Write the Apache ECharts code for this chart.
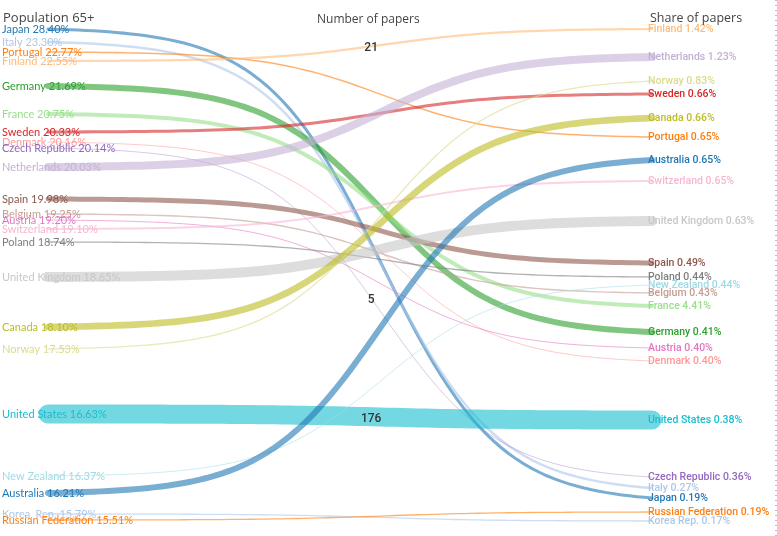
<!DOCTYPE html>
<html>
<head>
<meta charset="utf-8">
<script src="https://cdn.jsdelivr.net/npm/echarts@6/dist/echarts.min.js"></script>
<style>
html, body { margin: 0; padding: 0; background: #fff; }
#chart { width: 777px; height: 536px; }
</style>
</head>
<body>
<div id="chart"></div>
<script>
// countries, in the order they are drawn
var countries = ['Japan', 'Italy', 'Portugal', 'Finland', 'Germany', 'France', 'Sweden', 'Denmark',
    'Czech Republic', 'Netherlands', 'Spain', 'Belgium', 'Austria', 'Switzerland', 'Poland',
    'United Kingdom', 'Canada', 'Norway', 'United States', 'New Zealand', 'Australia', 'Korea, Rep.',
    'Russian Federation'];
var rightNames = ['Japan', 'Italy', 'Portugal', 'Finland', 'Germany', 'France', 'Sweden', 'Denmark',
    'Czech Republic', 'Netherlands', 'Spain', 'Belgium', 'Austria', 'Switzerland', 'Poland',
    'United Kingdom', 'Canada', 'Norway', 'United States', 'New Zealand', 'Australia', 'Korea Rep.',
    'Russian Federation'];
// population 65+ (%)
var pop65 = [28.40, 23.30, 22.77, 22.55, 21.69, 20.75, 20.33, 20.16, 20.14, 20.03, 19.98, 19.25, 19.20,
    19.10, 18.74, 18.65, 18.10, 17.53, 16.63, 16.37, 16.21, 15.79, 15.51];
// share of papers (%)
var paperShare = [0.19, 0.27, 0.65, 1.42, 0.41, 4.41, 0.66, 0.40, 0.36, 1.23, 0.49, 0.43, 0.40,
    0.65, 0.44, 0.63, 0.66, 0.83, 0.38, 0.44, 0.65, 0.17, 0.19];
// number of papers (line thickness)
var papers = [28, 23, 14, 21, 55, 37, 28, 8, 5, 74, 46, 13, 9, 18, 12, 92, 62, 12, 176, 8, 55, 12, 12];
// vertical slot of each country in the left and right columns
var leftSlot = [29, 42, 52, 61, 86, 114, 132, 142, 148, 167, 199, 214, 220, 229, 242, 277, 327, 349,
    414, 476, 493, 514, 520];
var rightSlot = [498, 488, 137, 29, 332, 306, 94, 361, 477, 57, 263, 293, 348, 181, 277, 221, 118, 81,
    420, 285, 160, 521, 512];
var labeledPapers = ['Finland', 'Czech Republic', 'United States'];

var palette = ['#1f77b4', '#aec7e8', '#ff7f0e', '#ffbb78', '#2ca02c', '#98df8a', '#d62728', '#ff9896',
    '#9467bd', '#c5b0d5', '#8c564b', '#c49c94', '#e377c2', '#f7b6d2', '#7f7f7f', '#c7c7c7',
    '#bcbd22', '#dbdb8d', '#17becf', '#9edae5'];

var K = 10.3, C = 0.553;
function sig(v) { return 1 / (1 + Math.exp(-v)); }
var s0 = sig(-K * C), s1 = sig(K * (1 - C));
function ease(t) { return (sig(K * (t - C)) - s0) / (s1 - s0); }

var rows = countries.map(function (c, i) {
    return [0, leftSlot[i], 1, rightSlot[i], papers[i], i];
});

var myChart = echarts.init(document.getElementById('chart'));
var option = {
    animation: false,
    title: [
        { text: 'Population 65+', left: -2, top: 7, textStyle: { fontFamily: 'Open Sans', fontSize: 13, fontWeight: 'normal', color: '#444' } },
        { text: 'Number of papers', left: 312, top: 9, textStyle: { fontFamily: 'Open Sans', fontSize: 12, fontWeight: 'normal', color: '#444' } },
        { text: 'Share of papers', left: 645, top: 7, textStyle: { fontFamily: 'Open Sans', fontSize: 12.5, fontWeight: 'normal', color: '#444' } }
    ],
    grid: { left: 0, right: 0, top: 0, bottom: 0 },
    xAxis: { type: 'value', min: -0.0795, max: 1.207, show: false },
    yAxis: { type: 'value', min: 0, max: 536, inverse: true, show: false },
    graphic: [{
        type: 'line', shape: { x1: 776, y1: 0, x2: 776, y2: 536 },
        style: { stroke: '#e040c0', lineWidth: 1, lineDash: [1, 4] }
    }],
    series: [
        {   // left labels, below the lines
            type: 'custom', z: 1, silent: true,
            data: rows,
            encode: { x: [0, 2], y: [1, 3] },
            renderItem: function (params, api) {
                var i = api.value(5);
                var p = api.coord([0, api.value(1)]);
                return {
                    type: 'text',
                    style: {
                        text: countries[i] + ' ' + pop65[i].toFixed(2) + '%',
                        x: 2, y: p[1], verticalAlign: 'middle',
                        fill: palette[i % 20], fontFamily: 'Lato', fontSize: 11
                    }
                };
            }
        },
        {   // curves
            type: 'custom', z: 2, silent: true,
            data: rows,
            encode: { x: [0, 2], y: [1, 3] },
            renderItem: function (params, api) {
                var i = api.value(5);
                var yl = api.value(1), yr = api.value(3);
                var pts = [];
                for (var k = 0; k <= 80; k++) {
                    var t = k / 80;
                    pts.push(api.coord([t, yl + (yr - yl) * ease(t)]));
                }
                var children = [{
                    type: 'polyline',
                    shape: { points: pts },
                    style: {
                        stroke: palette[i % 20], fill: null, opacity: 0.6,
                        lineWidth: Math.max(0.6, api.value(4) * 0.108), lineCap: 'round'
                    }
                }];
                if (labeledPapers.indexOf(countries[i]) >= 0) {
                    var tl = 0.535;
                    var q = api.coord([tl, yl + (yr - yl) * ease(tl)]);
                    children.push({
                        type: 'text',
                        style: {
                            text: String(api.value(4)), x: q[0], y: q[1] + 2,
                            align: 'center', verticalAlign: 'middle',
                            fill: '#333', fontFamily: 'Roboto', fontSize: 12, fontWeight: 500
                        }
                    });
                }
                return { type: 'group', children: children };
            }
        },
        {   // right labels, above the lines
            type: 'custom', z: 3, silent: true,
            data: rows,
            encode: { x: [0, 2], y: [1, 3] },
            renderItem: function (params, api) {
                var i = api.value(5);
                var p = api.coord([1, api.value(3)]);
                return {
                    type: 'text',
                    style: {
                        text: rightNames[i] + ' ' + paperShare[i].toFixed(2) + '%',
                        x: p[0] - 4, y: p[1], verticalAlign: 'middle',
                        fill: palette[i % 20], fontFamily: 'Roboto', fontSize: 10.5, fontWeight: 500
                    }
                };
            }
        }
    ]
};
myChart.setOption(option);
</script>
</body>
</html>
